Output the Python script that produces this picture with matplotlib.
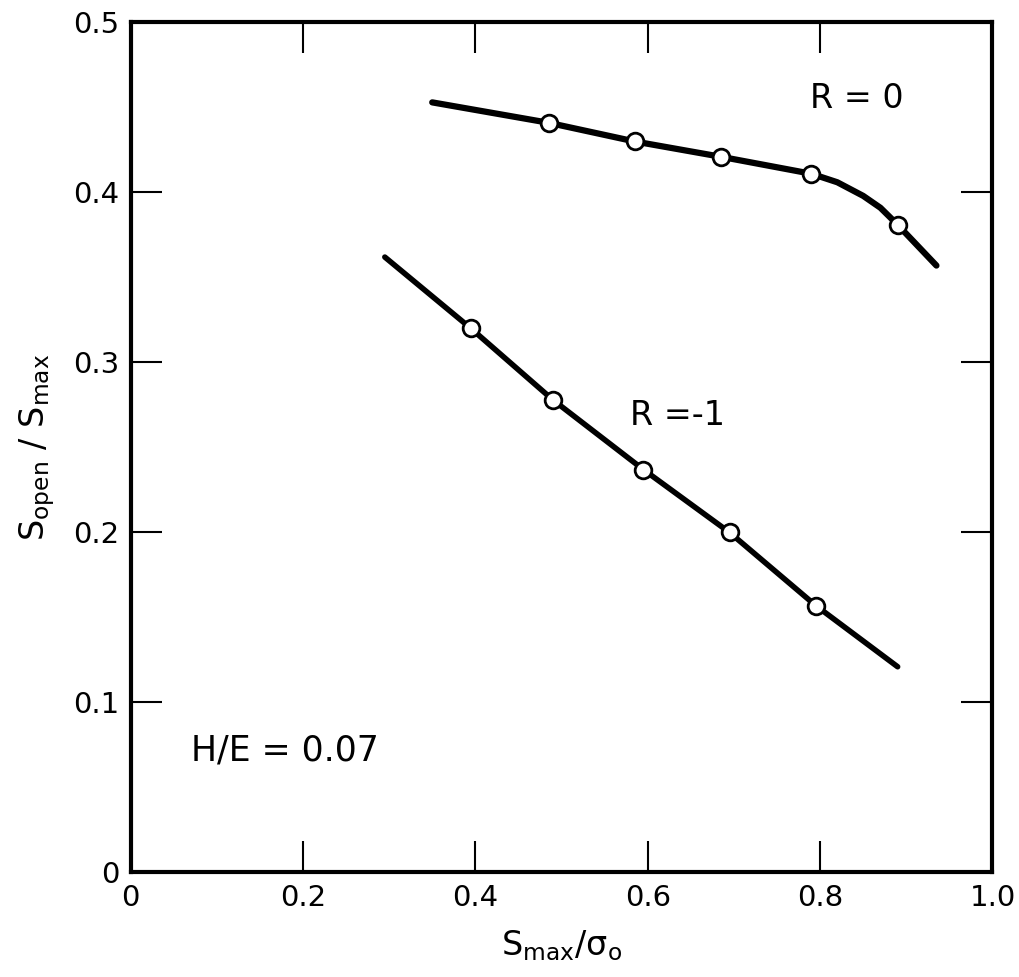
import matplotlib
matplotlib.use("Agg")
import matplotlib.pyplot as plt

# R = 0 curve (line ends + measured points)
r0_line_x = [0.35, 0.485, 0.585, 0.685, 0.79, 0.82, 0.85, 0.87, 0.89, 0.935]
r0_line_y = [0.453, 0.441, 0.430, 0.421, 0.411, 0.406, 0.398, 0.391, 0.381, 0.357]
r0_pts_x = [0.485, 0.585, 0.685, 0.79, 0.89]
r0_pts_y = [0.441, 0.430, 0.421, 0.411, 0.381]

# R = -1 curve
r1_line_x = [0.295, 0.395, 0.49, 0.595, 0.695, 0.795, 0.89]
r1_line_y = [0.362, 0.320, 0.278, 0.237, 0.200, 0.157, 0.121]
r1_pts_x = [0.395, 0.49, 0.595, 0.695, 0.795]
r1_pts_y = [0.320, 0.278, 0.237, 0.200, 0.157]

xticks = [0, 0.2, 0.4, 0.6, 0.8, 1.0]
xlabels = ["0", "0.2", "0.4", "0.6", "0.8", "1.0"]
yticks = [0, 0.1, 0.2, 0.3, 0.4, 0.5]
ylabels = ["0", "0.1", "0.2", "0.3", "0.4", "0.5"]

plt.rcParams['font.family'] = ['DejaVu Sans']
plt.rcParams['mathtext.fontset'] = 'dejavusans'

fig = plt.figure(figsize=(10.2, 9.77), dpi=100)
ax = fig.add_axes([0.128, 0.107, 0.845, 0.870])

ax.plot(r0_line_x, r0_line_y, color='black', lw=4.5, solid_capstyle='round', zorder=2)
ax.plot(r1_line_x, r1_line_y, color='black', lw=4, solid_capstyle='round', zorder=2)
ax.plot(r0_pts_x, r0_pts_y, 'o', ms=12, mfc='white', mec='black', mew=2, zorder=3)
ax.plot(r1_pts_x, r1_pts_y, 'o', ms=12, mfc='white', mec='black', mew=2, zorder=3)

ax.set_xlim(0, 1.0)
ax.set_ylim(0, 0.5)
ax.set_xticks(xticks)
ax.set_xticklabels(xlabels)
ax.set_yticks(yticks)
ax.set_yticklabels(ylabels)
ax.tick_params(direction='in', length=22, width=1.5, labelsize=21,
               top=True, right=True, pad=8)

for s in ax.spines.values():
    s.set_linewidth(3)

ax.set_xlabel(r'$\mathregular{S_{max}/\sigma_o}$', fontsize=24, labelpad=12)
ax.set_ylabel(r'$\mathregular{S_{open}\ /\ S_{max}}$', fontsize=24, labelpad=12)

ax.text(0.843, 0.455, 'R = 0', fontsize=24, ha='center', va='center')
ax.text(0.635, 0.269, 'R =-1', fontsize=24, ha='center', va='center')
ax.text(0.07, 0.072, 'H/E = 0.07', fontsize=25, ha='left', va='center')

fig.savefig('out.png', dpi=100, facecolor='white')
